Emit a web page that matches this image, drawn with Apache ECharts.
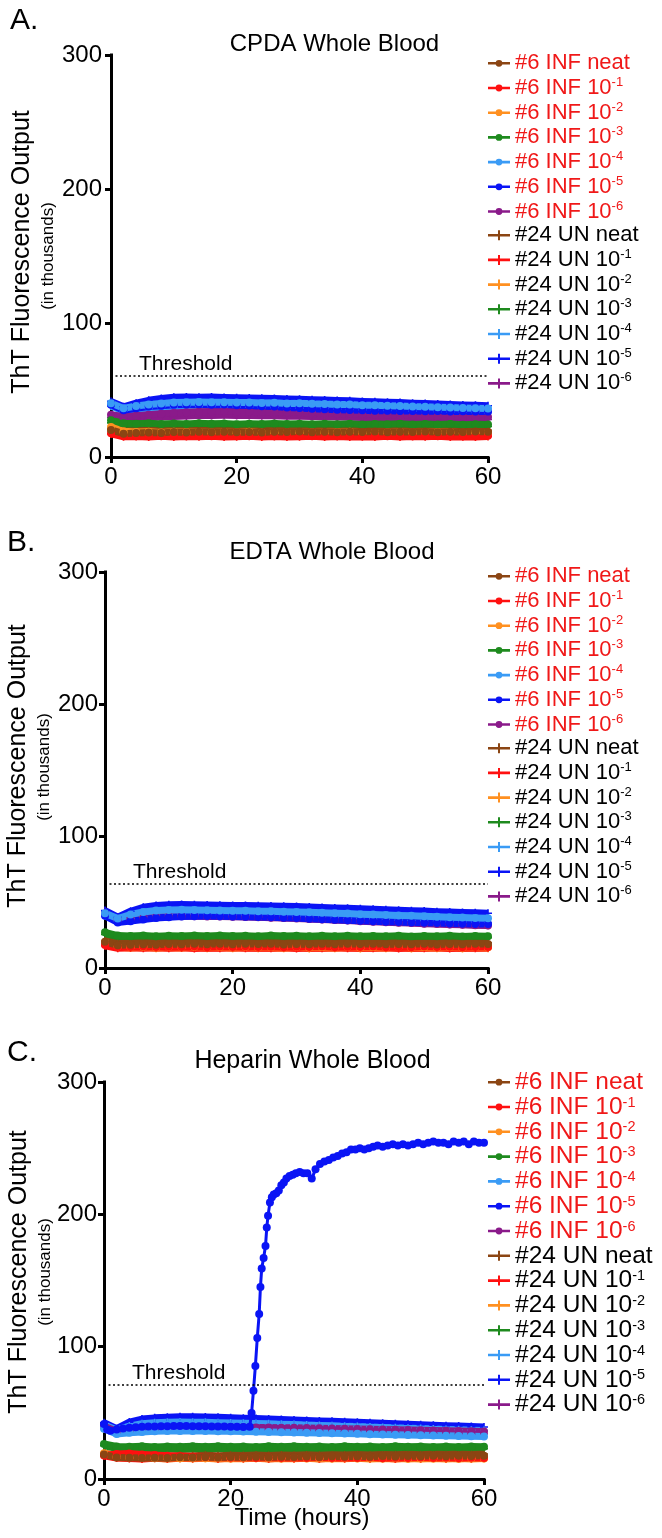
<!DOCTYPE html>
<html><head><meta charset="utf-8">
<script src="https://cdn.jsdelivr.net/npm/echarts@6/dist/echarts.min.js"></script>
<style>html,body{margin:0;padding:0;background:#fff}#c{width:662px;height:1538px}</style>
</head><body><div id="c"></div>
<script>
// ---------- data ----------
const hours = [0,2,4,6,8,10,12,14,16,18,20,22,24,26,28,30,32,34,36,38,40,42,44,46,48,50,52,54,56,58,60];
const seriesNames = ['#6 INF neat','#6 INF 10^-1','#6 INF 10^-2','#6 INF 10^-3','#6 INF 10^-4','#6 INF 10^-5','#6 INF 10^-6',
  '#24 UN neat','#24 UN 10^-1','#24 UN 10^-2','#24 UN 10^-3','#24 UN 10^-4','#24 UN 10^-5','#24 UN 10^-6'];
const seriesColors = ['#8b4513','#ff1010','#ff9020','#1e8a1e','#3a9bf5','#0a14f5','#8a1a8a',
  '#8b4513','#ff1010','#ff9020','#1e8a1e','#3a9bf5','#0a14f5','#8a1a8a'];
const panelTitles = ['CPDA Whole Blood','EDTA Whole Blood','Heparin Whole Blood'];
const panelLetters = ['A.','B.','C.'];
const thresholds = [61, 64, 71];
const xTicks = [0,20,40,60];
const yTicks = [0,100,200,300];

// Panel A: CPDA whole blood
const cpdaInfNeat = [20.2,17.4,17.9,18.3,18.0,18.6,18.2,18.8,18.4,18.9,18.5,18.7,18.3,18.9,18.6,19.0,18.5,18.8,18.4,18.9,18.6,19.1,18.5,18.8,18.6,19.0,18.4,18.9,18.7,19.1,18.8];
const cpdaInf1 = [17.8,15.6,15.9,16.3,15.8,16.4,16.0,16.5,15.9,16.2,15.8,16.4,16.1,15.7,16.3,15.9,16.4,15.8,16.2,16.0,15.7,16.3,15.9,16.1,15.8,16.2,15.9,16.4,15.8,16.1,15.9];
const cpdaInf2 = [22.4,19.2,18.6,18.9,18.3,18.8,18.4,18.7,18.2,18.6,18.3,18.8,18.1,18.5,18.3,18.7,18.2,18.6,18.4,18.8,18.1,18.5,18.3,18.7,18.2,18.6,18.4,18.7,18.1,18.5,18.3];
const cpdaInf3 = [27.4,25.2,24.8,25.1,24.6,25.0,24.7,25.2,24.8,25.0,24.5,24.9,24.6,25.0,24.7,24.9,24.4,24.8,24.5,24.9,24.3,24.7,24.4,24.8,24.2,24.6,24.3,24.7,24.1,24.5,24.3];
const cpdaInf4 = [40.2,36.3,38.1,39.2,40.0,40.6,40.9,41.0,40.8,40.9,40.6,40.7,40.3,40.4,40.0,40.1,39.7,39.6,39.2,39.1,38.7,38.6,38.2,38.0,37.6,37.5,37.1,36.9,36.6,36.4,36.2];
const cpdaInf5 = [39.0,34.8,36.4,37.6,38.3,38.9,39.2,39.3,39.0,39.1,38.6,38.4,37.9,37.6,37.0,36.6,36.0,35.7,35.3,35.0,34.8,34.6,34.5,34.3,34.4,34.2,34.3,34.0,34.1,33.9,34.0];
const cpdaInf6 = [31.5,30.2,30.8,31.6,32.3,32.9,33.4,33.8,34.0,34.1,34.0,33.9,33.8,33.6,33.4,33.2,33.0,32.8,32.5,32.3,32.0,31.8,31.5,31.3,31.0,30.8,30.6,30.4,30.2,30.0,29.9];
const cpdaUnNeat = [21.0,19.2,19.5,19.9,19.6,20.1,19.8,20.2,19.7,20.0,19.8,20.3,19.9,20.1,19.7,20.2,19.8,20.0,19.9,20.3,19.8,20.1,19.9,20.2,19.7,20.1,19.9,20.3,19.8,20.0,19.9];
const cpdaUn1 = [17.2,15.1,15.3,15.0,15.4,14.9,15.3,15.1,15.5,14.9,15.2,15.4,15.0,15.3,14.9,15.2,15.4,15.0,15.3,14.9,15.2,15.0,15.4,14.9,15.3,15.1,15.4,14.9,15.2,15.0,15.3];
const cpdaUn2 = [21.2,18.0,17.6,17.9,17.4,17.8,17.5,17.9,17.3,17.7,17.5,17.8,17.4,17.7,17.5,17.9,17.3,17.6,17.4,17.8,17.3,17.7,17.5,17.8,17.4,17.6,17.3,17.7,17.4,17.6,17.5];
const cpdaUn3 = [25.5,23.4,23.0,23.3,22.9,23.4,23.0,23.3,22.8,23.2,22.9,23.3,22.8,23.1,22.9,23.2,22.7,23.1,22.8,23.2,22.7,23.0,22.8,23.1,22.6,23.0,22.7,23.1,22.6,22.9,22.8];
const cpdaUn4 = [38.0,34.2,35.4,36.3,37.0,37.4,37.7,37.8,37.7,37.6,37.4,37.3,37.0,36.9,36.6,36.5,36.2,36.0,35.7,35.5,35.2,35.0,34.7,34.5,34.2,34.0,33.8,33.6,33.4,33.2,33.1];
const cpdaUn5 = [41.5,37.5,40.2,42.3,43.6,44.6,44.8,44.6,44.7,44.4,44.3,44.0,43.8,43.7,43.3,43.1,42.8,42.5,42.1,41.9,41.5,41.2,40.9,40.6,40.2,39.9,39.5,39.2,38.8,38.6,38.3];
const cpdaUn6 = [29.5,28.4,28.8,29.3,29.8,30.2,30.6,30.9,31.0,31.1,31.0,30.9,30.8,30.7,30.5,30.4,30.2,30.0,29.8,29.7,29.5,29.3,29.1,29.0,28.8,28.7,28.5,28.4,28.2,28.1,28.0];

// Panel B: EDTA whole blood
const edtaInfNeat = [19.8,17.2,17.6,18.0,17.7,18.2,17.9,18.4,18.0,18.3,17.9,18.4,18.1,18.3,17.8,18.2,18.0,18.4,17.9,18.3,18.1,18.4,17.9,18.2,18.0,18.3,17.8,18.2,18.0,18.4,18.1];
const edtaInf1 = [17.5,16.2,16.0,16.4,15.9,16.3,16.0,16.5,15.8,16.2,16.0,16.4,15.9,16.1,15.8,16.3,16.0,16.2,15.7,16.1,15.9,16.3,15.8,16.0,15.7,16.2,15.9,16.1,15.8,16.0,15.9];
const edtaInf2 = [19.5,16.5,16.0,16.3,15.8,16.2,15.9,16.3,15.7,16.1,15.8,16.2,15.7,16.0,15.8,16.2,15.6,16.0,15.8,16.1,15.6,15.9,15.7,16.1,15.6,15.9,15.7,16.0,15.5,15.9,15.7];
const edtaInf3 = [27.0,24.6,24.2,24.6,24.1,24.5,24.2,24.7,24.3,24.6,24.2,24.5,24.1,24.6,24.2,24.5,24.0,24.4,24.1,24.5,24.0,24.3,24.1,24.4,23.9,24.3,24.0,24.4,23.9,24.2,24.1];
const edtaInf4 = [41.5,37.5,40.5,42.5,43.5,44.0,44.2,44.0,43.8,43.6,43.4,43.3,43.0,42.9,42.7,42.5,42.2,41.9,41.5,41.2,40.8,40.5,40.1,39.8,39.5,39.2,38.8,38.5,38.2,37.9,37.6];
const edtaInf5 = [39.5,34.5,35.5,36.8,37.8,38.5,39.0,39.2,39.3,39.2,39.0,38.8,38.6,38.4,38.1,37.8,37.4,37.0,36.6,36.2,35.8,35.5,35.1,34.8,34.5,34.2,34.0,33.8,33.6,33.4,33.3];
const edtaInf6 = [40.5,36.0,37.0,38.0,38.6,39.0,39.2,39.2,39.1,39.0,38.8,38.6,38.4,38.1,37.8,37.5,37.1,36.7,36.3,35.9,35.5,35.1,34.7,34.3,34.0,33.6,33.3,33.0,32.7,32.4,32.2];
const edtaUnNeat = [20.5,18.5,18.8,19.2,18.9,19.4,19.0,19.3,18.9,19.3,19.0,19.4,18.9,19.2,19.0,19.4,18.8,19.2,19.0,19.3,18.9,19.2,19.0,19.4,18.8,19.2,18.9,19.3,19.0,19.2,19.1];
const edtaUn1 = [16.8,15.0,15.3,14.9,15.4,15.0,15.3,14.8,15.2,15.0,15.4,14.9,15.2,15.0,15.3,14.8,15.2,15.0,15.4,14.9,15.1,15.0,15.3,14.8,15.2,14.9,15.3,14.8,15.1,14.9,15.2];
const edtaUn2 = [18.0,15.6,15.2,15.5,15.0,15.4,15.1,15.5,14.9,15.3,15.0,15.4,14.9,15.2,15.0,15.4,14.8,15.2,15.0,15.3,14.8,15.1,14.9,15.3,14.8,15.1,14.9,15.2,14.7,15.1,14.9];
const edtaUn3 = [25.5,23.3,23.0,23.4,22.9,23.3,23.0,23.4,22.9,23.3,23.0,23.3,22.8,23.2,23.0,23.3,22.8,23.2,22.9,23.2,22.8,23.1,22.9,23.2,22.7,23.1,22.9,23.2,22.7,23.0,22.9];
const edtaUn4 = [39.5,35.5,37.5,39.0,40.0,40.5,40.7,40.6,40.5,40.3,40.1,39.9,39.7,39.5,39.3,39.0,38.7,38.4,38.0,37.7,37.3,37.0,36.6,36.3,36.0,35.7,35.4,35.1,34.8,34.6,34.4];
const edtaUn5 = [43.5,38.5,43.0,46.0,47.3,48.0,48.2,48.0,47.8,47.6,47.4,47.3,47.1,46.9,46.7,46.5,46.2,45.9,45.5,45.2,44.8,44.5,44.1,43.8,43.4,43.1,42.7,42.4,42.1,41.8,41.5];
const edtaUn6 = [43.0,37.5,38.0,38.8,39.3,39.6,39.8,39.7,39.6,39.4,39.2,39.0,38.7,38.4,38.1,37.8,37.4,37.0,36.6,36.2,35.8,35.4,35.0,34.6,34.2,33.9,33.5,33.2,32.9,32.6,32.4];

// Panel C: Heparin whole blood
const hepInfNeat = [18.5,16.2,16.0,15.8,16.1,15.9,16.4,16.2,16.6,16.3,16.7,16.4,16.8,16.5,16.9,16.6,17.0,16.7,17.1,16.8,17.2,16.9,17.3,17.0,17.4,17.1,17.5,17.2,17.6,17.3,17.6];
const hepInf1 = [17.8,18.9,19.2,18.6,18.2,17.6,17.2,16.8,16.5,16.2,16.0,16.3,15.9,16.2,15.8,16.1,15.9,16.3,15.8,16.1,15.9,16.2,15.7,16.0,15.8,16.2,15.9,16.1,15.7,16.0,15.8];
const hepInf2 = [19.5,17.0,16.5,16.2,15.9,16.1,15.7,16.0,15.6,15.9,15.5,15.8,15.6,15.9,15.5,15.8,15.4,15.7,15.5,15.8,15.4,15.7,15.5,15.8,15.3,15.6,15.4,15.7,15.3,15.6,15.4];
const hepInf3 = [26.5,24.6,24.3,24.7,24.2,24.6,24.3,24.8,24.4,24.7,24.3,24.6,24.2,24.7,24.4,24.8,24.3,24.6,24.2,24.7,24.3,24.6,24.2,24.7,24.3,24.6,24.1,24.5,24.2,24.6,24.4];
const hepInf4 = [38.0,34.0,35.0,35.6,36.0,36.2,36.3,36.3,36.2,36.1,36.0,35.9,35.7,35.5,35.3,35.1,34.9,34.7,34.5,34.3,34.1,33.9,33.7,33.5,33.3,33.1,32.9,32.7,32.5,32.3,32.2];
const hepInf5Hours = [0,0.5,1,2,3,4,5,6,7,8,9,10,11,12,13,14,15,16,17,18,19,20,21,22,23,23.3,23.6,23.9,24.2,24.5,24.7,24.9,25.2,25.5,25.7,25.9,26.2,26.5,26.8,27.2,27.6,28.0,28.4,28.8,29.3,29.8,30.3,30.9,31.5,32.1,32.8,33.4,34.1,34.8,35.5,36.2,36.9,37.6,38.3,39.0,39.7,40.4,41.1,41.8,42.5,43.2,44.0,44.8,45.6,46.4,47.2,48.0,48.8,49.6,50.4,51.2,52.0,52.8,53.6,54.4,55.2,56.0,56.8,57.6,58.4,59.2,60];
const hepInf5Values = [41.5,37.5,36.5,37.5,38.2,38.8,39.2,39.4,39.6,39.7,39.8,39.9,40.0,40.0,40.0,39.9,39.8,39.8,39.7,39.6,39.6,39.5,39.4,39.3,39.4,49.8,66.7,85.3,106.5,124.6,145,159,167,176,190,199,209,213,215,216,218,222,224,227,229,230,231,232,231,231,227,234,238,240,241,243,244,246,247,249,249,250,249,250,251,252,251,252,253,252,253,252,253,254,253,254,255,254,254,253,255,254,255,253,255,254,254];
const hepInf6 = [40.0,36.0,37.0,37.8,38.3,38.6,38.8,39.0,39.1,39.2,39.2,39.1,39.0,38.9,38.8,38.7,38.6,38.4,38.2,38.0,37.8,37.6,37.4,37.2,37.0,36.8,36.6,36.4,36.2,36.0,35.9];
const hepUnNeat = [19.5,17.8,17.5,17.2,17.6,17.4,17.8,17.5,17.9,17.6,18.0,17.7,18.1,17.8,18.2,17.9,18.3,18.0,18.4,18.1,18.5,18.2,18.6,18.3,18.7,18.4,18.8,18.5,18.9,18.6,18.9];
const hepUn1 = [17.5,15.8,15.5,15.2,15.6,15.3,15.7,15.4,15.8,15.3,15.6,15.4,15.8,15.3,15.7,15.5,15.8,15.3,15.7,15.4,15.8,15.4,15.7,15.3,15.7,15.5,15.8,15.4,15.7,15.5,15.8];
const hepUn2 = [18.5,16.0,15.6,15.3,15.7,15.2,15.6,15.3,15.7,15.2,15.5,15.3,15.6,15.1,15.5,15.3,15.6,15.2,15.5,15.3,15.6,15.2,15.5,15.1,15.4,15.2,15.5,15.1,15.4,15.2,15.4];
const hepUn3 = [25.2,23.0,22.8,23.2,22.7,23.1,22.8,23.3,22.9,23.2,22.8,23.1,22.7,23.2,22.9,23.3,22.8,23.1,22.7,23.2,22.8,23.1,22.7,23.2,22.8,23.1,22.6,23.0,22.7,23.1,22.9];
const hepUn4 = [41.0,37.0,40.0,41.8,42.5,42.9,43.0,42.9,42.8,42.6,42.4,42.2,42.0,41.7,41.4,41.1,40.8,40.5,40.2,39.9,39.6,39.3,39.0,38.7,38.4,38.1,37.8,37.5,37.2,36.9,36.6];
const hepUn5 = [42.5,38.0,43.0,45.3,46.2,46.7,47.0,47.0,46.8,46.6,46.3,46.0,45.7,45.3,45.0,44.6,44.3,43.9,43.6,43.2,42.8,42.5,42.1,41.8,41.4,41.0,40.7,40.3,40.0,39.6,39.3];
const hepUn6 = [38.0,35.0,36.0,36.8,37.3,37.6,37.8,37.9,37.9,37.8,37.7,37.6,37.5,37.3,37.1,36.9,36.7,36.5,36.3,36.1,35.9,35.7,35.5,35.3,35.1,34.9,34.7,34.5,34.3,34.1,34.0];

// ---------- build ----------
const FONT = '"Liberation Sans", Arial, Helvetica, sans-serif';
const PLUS = 'path://M4,0H6V4H10V6H6V10H4V6H0V4H4Z';
const ICON_INF = 'path://M0,3.7H7.8V6.3H0Z M14.2,3.7H22V6.3H14.2Z M11,1.6A3.4,3.4,0,1,1,10.99,1.6Z';
const ICON_UN = 'path://M0,3.7H22V6.3H0Z M10,0H12V10H10Z';

const panelData = [
  [cpdaInfNeat,cpdaInf1,cpdaInf2,cpdaInf3,cpdaInf4,cpdaInf5,cpdaInf6,cpdaUnNeat,cpdaUn1,cpdaUn2,cpdaUn3,cpdaUn4,cpdaUn5,cpdaUn6],
  [edtaInfNeat,edtaInf1,edtaInf2,edtaInf3,edtaInf4,edtaInf5,edtaInf6,edtaUnNeat,edtaUn1,edtaUn2,edtaUn3,edtaUn4,edtaUn5,edtaUn6],
  [hepInfNeat,hepInf1,hepInf2,hepInf3,hepInf4,null,hepInf6,hepUnNeat,hepUn1,hepUn2,hepUn3,hepUn4,hepUn5,hepUn6]
];

const grids = [
  {left:111, top:55, width:377, height:402},
  {left:105, top:572, width:383, height:396},
  {left:104, top:1082, width:380, height:397}
];
const legendTops = [52.3, 565.3, 1069.7];
const legendFont = [22, 22, 24.5];
const legendSup = [13, 13, 14.5];
const legendGap = [1.7, 1.7, -0.2];

const xAxes = [], yAxes = [], series = [], legends = [];
grids.forEach((g, p) => {
  const lbl = {color:'#000', fontSize:24, fontFamily:FONT};
  xAxes.push({gridIndex:p, type:'value', min:0, max:60, interval:20,
    axisLine:{show:true, lineStyle:{color:'#000', width:3, cap:'square'}},
    axisTick:{show:true, length:6, lineStyle:{color:'#000', width:3}},
    axisLabel:Object.assign({margin:8}, lbl), splitLine:{show:false}});
  yAxes.push({gridIndex:p, type:'value', min:0, max:300, interval:100,
    axisLine:{show:true, lineStyle:{color:'#000', width:3, cap:'square'}},
    axisTick:{show:true, length:6, lineStyle:{color:'#000', width:3}},
    axisLabel:Object.assign({margin:p === 0 ? 9 : 7}, lbl), splitLine:{show:false}});

  // draw in reverse order so the first data set sits on top
  for (let i = 13; i >= 0; i--) {
    let data;
    const big = (p === 2 && i === 5);
    if (big) data = hepInf5Hours.map((t, j) => [t, hepInf5Values[j]]);
    else data = hours.map((t, j) => [t, panelData[p][i][j]]);
    const s = {
      name: seriesNames[i], type:'line', xAxisIndex:p, yAxisIndex:p, data,
      color: seriesColors[i], silent:true, animation:false,
      symbol: i < 7 ? 'circle' : PLUS, symbolSize: big ? 8 : 8,
      showSymbol:true, showAllSymbol:true,
      itemStyle:{borderWidth:0},
      lineStyle:{width: big ? 3 : 7, join:'round'},
      z: big ? 4 : 2
    };
    if (i === 13) {
      s.markLine = {silent:true, symbol:'none', animation:false,
        lineStyle:{type:[2,2.5], width:1.5, color:'#000'},
        label:{show:true, position:'insideStartTop', formatter:'Threshold', color:'#000', fontSize:21, fontFamily:FONT, distance:[28, 1]},
        emphasis:{disabled:true},
        data:[{yAxis: thresholds[p]}]};
    }
    series.push(s);
  }

  const fs = legendFont[p], ss = legendSup[p];
  legends.push({
    orient:'vertical', left:488, top:legendTops[p], padding:0, itemGap:legendGap[p],
    itemWidth:22, itemHeight:10, selectedMode:false,
    itemStyle:{borderWidth:0},
    data: seriesNames.map((n, i) => ({name:n, icon: i < 7 ? ICON_INF : ICON_UN})),
    formatter: name => {
      const k = name.indexOf('INF') >= 0 ? 'r' : 'k';
      const parts = name.split('^');
      return parts.length > 1 ? '{' + k + '|' + parts[0] + '}{' + k + 's|' + parts[1] + '}' : '{' + k + '|' + name + '}';
    },
    textStyle:{fontFamily:FONT, rich:{
      r:{color:'#f01818', fontSize:fs, lineHeight:24, fontFamily:FONT},
      rs:{color:'#f01818', fontSize:ss, lineHeight:ss, verticalAlign:'top', fontFamily:FONT},
      k:{color:'#000', fontSize:fs, lineHeight:24, fontFamily:FONT},
      ks:{color:'#000', fontSize:ss, lineHeight:ss, verticalAlign:'top', fontFamily:FONT}
    }}
  });
});

function txt(x, y, text, size, opts) {
  return Object.assign({type:'text', x, y, silent:true,
    style:{text, font: size + 'px ' + FONT, fill:'#000', align:'center', verticalAlign:'middle'}}, opts || {});
}
const titlePos = [[334.5,44,24],[332,552,24],[312.5,1061,25]];
const letterPos = [[10,21],[7,543],[7,1053]];
const yNamePos = [[22,252,48,256],[18,766,44,767],[19,1272,45,1272]];
const graphics = [];
for (let p = 0; p < 3; p++) {
  graphics.push(txt(titlePos[p][0], titlePos[p][1], panelTitles[p], titlePos[p][2]));
  const l = txt(letterPos[p][0], letterPos[p][1], panelLetters[p], 30);
  l.style.align = 'left';
  graphics.push(l);
  graphics.push(txt(yNamePos[p][0], yNamePos[p][1], 'ThT Fluorescence Output', 25, {rotation:Math.PI/2}));
  graphics.push(txt(yNamePos[p][2], yNamePos[p][3], '(in thousands)', 17, {rotation:Math.PI/2}));
}
graphics.push(txt(302, 1518, 'Time (hours)', 24));

const chart = echarts.init(document.getElementById('c'), null, {renderer:'canvas'});
chart.setOption({
  backgroundColor:'#fff', animation:false,
  grid: grids, xAxis: xAxes, yAxis: yAxes, series, legend: legends, graphic: graphics
});
</script></body></html>
